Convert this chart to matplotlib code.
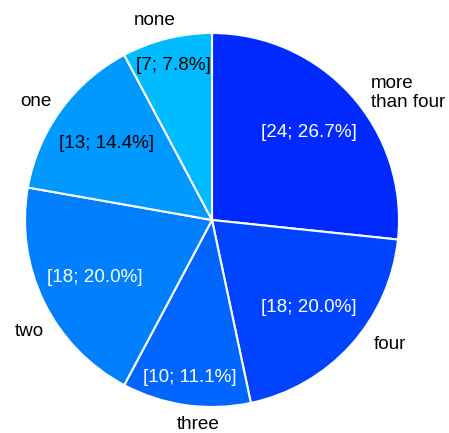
import numpy as np
import matplotlib
matplotlib.use("Agg")
import matplotlib.pyplot as plt

plt.rcParams['font.family'] = ['Liberation Sans', 'DejaVu Sans']

# data
categories = ['more\nthan four', 'four', 'three', 'two', 'one', 'none']
counts = [24, 18, 10, 18, 13, 7]
colors = ['#0029FF', '#0044FF', '#0066FF', '#0080FF', '#0099FF', '#00BBFF']
inner_text_colors = ['white', 'white', 'white', 'white', 'black', 'black']

# outer label placement (radius in pie radii, angular nudge in degrees)
label_r = [1.10, 1.155, 1.085, 1.14, 1.14, 1.12]
label_nudge = [-2.7, 7.6, 4.0, 5.0, 1.6, 2.0]

W, H = 449, 433
cx, cy, R = 212, 220, 187

fig = plt.figure(figsize=(W / 100, H / 100), dpi=100)
ax = fig.add_axes([(cx - R) / W, (H - cy - R) / H, 2 * R / W, 2 * R / H])

wedges, _ = ax.pie(counts, colors=colors, startangle=90, counterclock=False,
                   wedgeprops=dict(edgecolor='white', linewidth=1.5))
ax.set_xlim(-1, 1)
ax.set_ylim(-1, 1)
ax.set_aspect('equal')
ax.axis('off')

total = sum(counts)
for i, w in enumerate(wedges):
    mid = np.deg2rad((w.theta1 + w.theta2) / 2)
    share = counts[i] / total
    d = 0.85 if share < 0.12 else 0.70
    ax.text(d * np.cos(mid), d * np.sin(mid), f'[{counts[i]}; {share * 100:.1f}%]',
            ha='center', va='center', fontsize=13.6, color=inner_text_colors[i])

    ang = mid + np.deg2rad(label_nudge[i])
    x, y = label_r[i] * np.cos(ang), label_r[i] * np.sin(ang)
    ha = 'left' if i == 0 else 'center'
    ax.text(x, y, categories[i], ha=ha, va='center_baseline', fontsize=13.6,
            color='black', multialignment='left', linespacing=1.15)

fig.savefig('out.png', dpi=100)
